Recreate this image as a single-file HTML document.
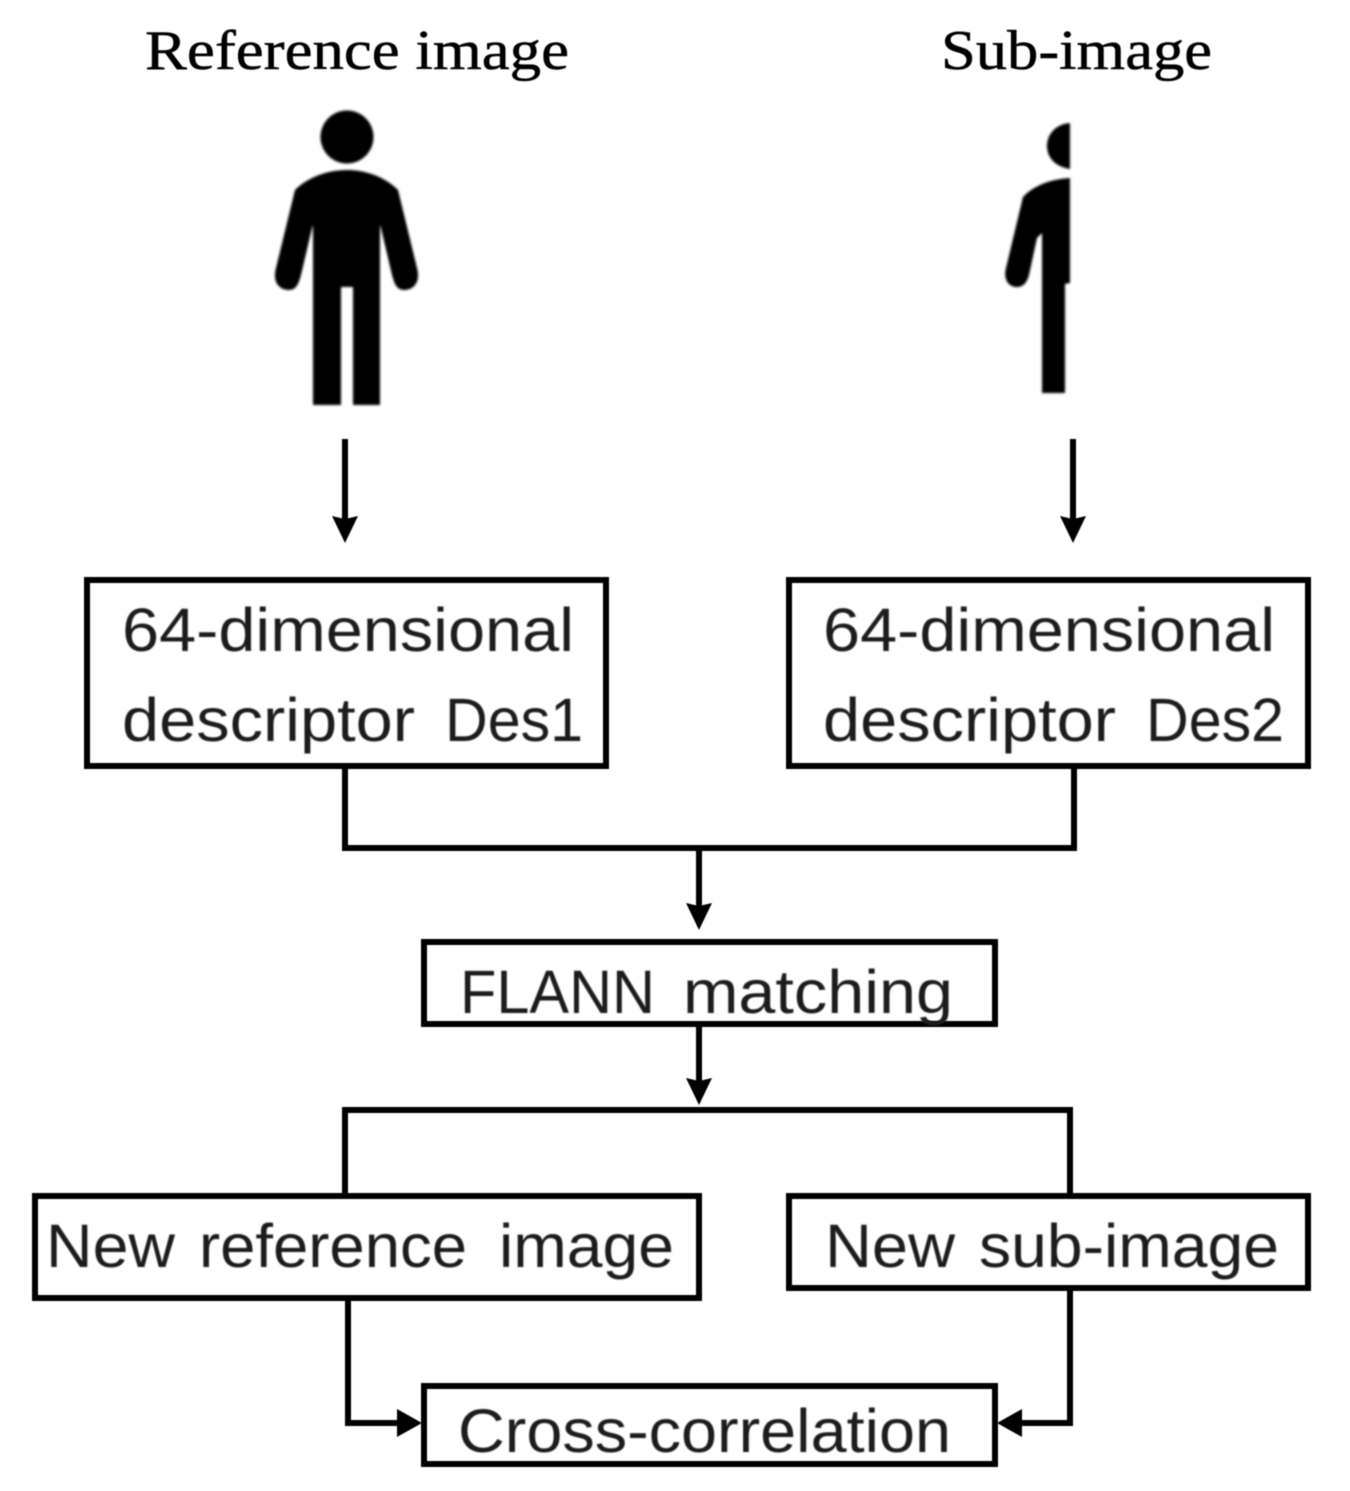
<!DOCTYPE html>
<html><head><meta charset="utf-8"><style>html,body{margin:0;padding:0;background:#fff}svg{display:block}</style></head><body>
<svg width="1350" height="1491" viewBox="0 0 1350 1491" xmlns="http://www.w3.org/2000/svg">
<defs>
<filter id="b" x="-5%" y="-5%" width="110%" height="110%"><feGaussianBlur stdDeviation="0.8"/></filter>
<filter id="c" x="-5%" y="-5%" width="110%" height="110%"><feGaussianBlur stdDeviation="1.3"/></filter>
<filter id="t" x="-5%" y="-5%" width="110%" height="110%"><feGaussianBlur stdDeviation="0.6"/></filter>
</defs>
<rect width="1350" height="1491" fill="#fff"/>
<g font-family="'Liberation Serif',serif" font-size="56" fill="#000" stroke="#000" stroke-width="0.5" filter="url(#t)">
<text x="145" y="69" textLength="424" lengthAdjust="spacingAndGlyphs">Reference image</text>
<text x="941" y="69" textLength="271" lengthAdjust="spacingAndGlyphs">Sub-image</text>
</g>
<g fill="#000" filter="url(#c)">
<circle cx="347" cy="137" r="26.5"/>
<path d="M347 170 C366 170 385 177 398 190 L417 268 C421 283 413 290 404 290 C396 290 394 282 392 275 L381 228 L380 225 L380 405 L353 405 L353 287 L341 287 L341 405 L313 405 L313 225 L312 228 L301 275 C299 282 297 290 289 290 C280 290 272 283 276 268 L295 190 C308 177 328 170 347 170 Z"/>
<path d="M1070 123 C1056 124 1047 134 1047 146 C1047 158 1056 167 1070 169 Z"/>
<path d="M1070 178 C1052 179 1034 185 1023 197 L1006 268 C1003 280 1009 287 1017 287 C1024 287 1027 282 1029 275 L1037 238 L1042 233 L1042 393 L1065 393 L1065 284 L1070 283 Z"/>
</g>
<g fill="none" stroke="#000" stroke-width="6" filter="url(#t)">
<path d="M345 439V520"/><path d="M1073 439V520"/>
<rect x="87" y="580" width="519" height="186"/>
<rect x="789" y="580" width="519" height="186"/>
<path d="M345 766V848H1074V766"/>
<path d="M699 848V908"/>
<rect x="424" y="942" width="571" height="82"/>
<path d="M699 1024V1084"/>
<path d="M345 1196V1110H1070V1196"/>
<rect x="35" y="1196" width="664" height="102"/>
<rect x="789" y="1196" width="519" height="92"/>
<path d="M348 1298V1423H400"/>
<path d="M1070 1288V1423H1018"/>
<rect x="424" y="1386" width="571" height="78"/>
</g>
<g fill="#000" filter="url(#t)">
<path d="M332 516L345 543L358 516L345 519Z"/>
<path d="M1060 516L1073 543L1086 516L1073 519Z"/>
<path d="M686 903L699 930L712 903L699 906Z"/>
<path d="M686 1078L699 1105L712 1078L699 1081Z"/>
<path d="M397 1409L422 1423L397 1437Z"/>
<path d="M1022 1409L997 1423L1022 1437Z"/>
</g>
<g font-family="'Liberation Sans',sans-serif" font-size="61" fill="#1c1c1c" filter="url(#b)">
<text x="122" y="651" textLength="452" lengthAdjust="spacingAndGlyphs">64-dimensional</text>
<text x="122" y="741" textLength="293" lengthAdjust="spacingAndGlyphs">descriptor</text>
<text x="445" y="741" textLength="138" lengthAdjust="spacingAndGlyphs">Des1</text>
<text x="823" y="651" textLength="452" lengthAdjust="spacingAndGlyphs">64-dimensional</text>
<text x="823" y="741" textLength="293" lengthAdjust="spacingAndGlyphs">descriptor</text>
<text x="1146" y="741" textLength="138" lengthAdjust="spacingAndGlyphs">Des2</text>
<text x="460" y="1013" textLength="195" lengthAdjust="spacingAndGlyphs">FLANN</text>
<text x="683" y="1013" textLength="270" lengthAdjust="spacingAndGlyphs">matching</text>
<text x="46" y="1267" textLength="129" lengthAdjust="spacingAndGlyphs">New</text>
<text x="199" y="1267" textLength="268" lengthAdjust="spacingAndGlyphs">reference</text>
<text x="499" y="1267" textLength="175" lengthAdjust="spacingAndGlyphs">image</text>
<text x="825" y="1267" textLength="130" lengthAdjust="spacingAndGlyphs">New</text>
<text x="979" y="1267" textLength="300" lengthAdjust="spacingAndGlyphs">sub-image</text>
<text x="458" y="1452" textLength="493" lengthAdjust="spacingAndGlyphs">Cross-correlation</text>
</g>
</svg>
</body></html>
